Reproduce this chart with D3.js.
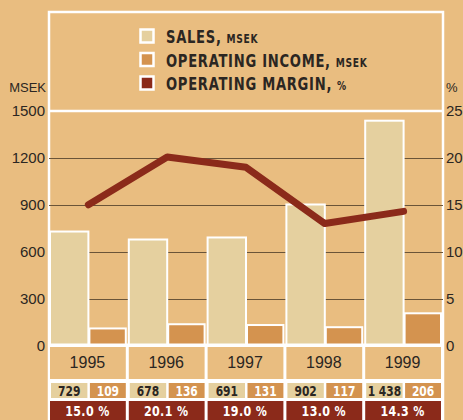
<!DOCTYPE html>
<html>
<head>
<meta charset="utf-8">
<script src="https://cdn.jsdelivr.net/npm/d3@7"></script>
<style>
  body { margin: 0; background: #e9bd80; }
  svg { display: block; }
</style>
</head>
<body>
<svg width="463" height="420"></svg>
<script>
// Data
var years = ["1995", "1996", "1997", "1998", "1999"];
var sales = [729, 678, 691, 902, 1438];
var income = [109, 136, 131, 117, 206];
var margin = [15.0, 20.1, 19.0, 13.0, 14.3];
var salesLabels = ["729", "678", "691", "902", "1 438"];
var incomeLabels = ["109", "136", "131", "117", "206"];
var marginLabels = ["15.0 %", "20.1 %", "19.0 %", "13.0 %", "14.3 %"];
var leftTicks = [0, 300, 600, 900, 1200, 1500];
var rightTicks = [0, 5, 10, 15, 20, 25];
var legendItems = [
  { big: "SALES", small: "MSEK" },
  { big: "OPERATING INCOME", small: "MSEK" },
  { big: "OPERATING MARGIN", small: "%" }
];

var bg = "#e9bd80",
    salesColor = "#e5d09f",
    incomeColor = "#d4934f",
    marginColor = "#8b2a1a",
    textColor = "#2b2622";
var legendColors = [salesColor, incomeColor, marginColor];
var condensed = "'Liberation Sans Narrow', 'DejaVu Sans Condensed', 'Arial Narrow', sans-serif";
var plain = "'Liberation Sans', Arial, sans-serif";

var svg = d3.select("svg");
var plotLeft = 49, plotRight = 443, plotTop = 12;

var x = d3.scaleBand().domain(years).range([plotLeft, plotRight]).paddingInner(0).paddingOuter(0);
var y = d3.scaleLinear().domain([0, 1500]).range([345.5, 111]);
var y2 = d3.scaleLinear().domain([0, 25]).range([345.5, 111]);
var bw = x.bandwidth();

// frame
svg.append("rect")
  .attr("x", plotLeft).attr("y", plotTop)
  .attr("width", plotRight - plotLeft).attr("height", 440)
  .attr("fill", bg).attr("stroke", "#fff").attr("stroke-width", 2.5);

// grid lines
svg.append("g").selectAll("line")
  .data(leftTicks.filter(function(d) { return d > 0 && d < 1500; }))
  .enter().append("line")
    .attr("x1", plotLeft).attr("x2", plotRight)
    .attr("y1", function(d) { return Math.round(y(d)) + 0.5; })
    .attr("y2", function(d) { return Math.round(y(d)) + 0.5; })
    .attr("stroke", "#6a5438").attr("stroke-width", 1);

svg.append("line")
  .attr("x1", plotLeft).attr("x2", plotRight)
  .attr("y1", y(1500)).attr("y2", y(1500))
  .attr("stroke", "#fff").attr("stroke-width", 2.5);

// bars
svg.append("g").selectAll("rect")
  .data(years).enter().append("rect")
    .attr("x", function(d) { return x(d) + 1; })
    .attr("width", bw / 2 - 1)
    .attr("y", function(d, i) { return y(sales[i]); })
    .attr("height", function(d, i) { return y(0) - y(sales[i]); })
    .attr("fill", salesColor).attr("stroke", "#fff").attr("stroke-width", 2);

svg.append("g").selectAll("rect")
  .data(years).enter().append("rect")
    .attr("x", function(d) { return x(d) + bw / 2 + 1; })
    .attr("width", bw / 2 - 3)
    .attr("y", function(d, i) { return y(income[i]); })
    .attr("height", function(d, i) { return y(0) - y(income[i]); })
    .attr("fill", incomeColor).attr("stroke", "#fff").attr("stroke-width", 2);

// margin line
var line = d3.line()
  .x(function(d, i) { return x(years[i]) + bw / 2; })
  .y(function(d) { return y2(d); });

svg.append("path")
  .datum(margin)
  .attr("d", line)
  .attr("fill", "none")
  .attr("stroke", marginColor)
  .attr("stroke-width", 7)
  .attr("stroke-linecap", "round")
  .attr("stroke-linejoin", "round");

// table under the chart
svg.append("rect")
  .attr("x", plotLeft - 1).attr("y", 343.5)
  .attr("width", plotRight - plotLeft + 2).attr("height", 80)
  .attr("fill", "#fff");

var rows = svg.append("g");
function cellText(cx, cy, txt, size, color, bold) {
  // narrow the condensed face a touch so it matches the original type
  var g = rows.append("g").attr("transform", "translate(" + cx + "," + cy + ") scale(0.88,1)");
  g.append("text")
    .attr("text-anchor", "middle").attr("font-family", condensed)
    .attr("font-weight", bold ? "bold" : "normal")
    .attr("font-size", size).attr("fill", color).text(txt);
  return g;
}

years.forEach(function(yr, i) {
  var x0 = x(yr);
  rows.append("rect").attr("x", x0 + 1).attr("y", 347).attr("width", bw - 3).attr("height", 32).attr("fill", bg);
  rows.append("text").attr("x", x0 + bw / 2 - 1).attr("y", 368)
    .attr("text-anchor", "middle").attr("font-family", plain).attr("font-size", 16)
    .attr("fill", textColor).text(yr);

  rows.append("rect").attr("x", x0 + 2).attr("y", 383).attr("width", bw / 2 - 3).attr("height", 15).attr("fill", salesColor);
  cellText(x0 + 2 + (bw / 2 - 3) / 2, 395.5, salesLabels[i], 13.5, textColor, true);

  rows.append("rect").attr("x", x0 + bw / 2 + 1.5).attr("y", 383).attr("width", bw / 2 - 3.5).attr("height", 15).attr("fill", incomeColor);
  cellText(x0 + bw / 2 + 1.5 + (bw / 2 - 3.5) / 2, 395.5, incomeLabels[i], 13.5, "#fff", true);

  rows.append("rect").attr("x", x0 + 1).attr("y", 401).attr("width", bw - 3).attr("height", 20).attr("fill", marginColor);
  cellText(x0 + bw / 2 - 1, 415.5, marginLabels[i], 14, "#fff", true)
    .select("text").attr("letter-spacing", 0.4);
});

// axes labels
svg.append("g").selectAll("text")
  .data(leftTicks).enter().append("text")
    .attr("x", 45).attr("y", function(d) { return y(d); }).attr("dy", "0.36em")
    .attr("text-anchor", "end").attr("font-family", plain).attr("font-size", 15)
    .attr("fill", textColor).text(function(d) { return d; });

svg.append("g").selectAll("text")
  .data(rightTicks).enter().append("text")
    .attr("x", 446).attr("y", function(d) { return y2(d); }).attr("dy", "0.36em")
    .attr("text-anchor", "start").attr("font-family", plain).attr("font-size", 15)
    .attr("fill", textColor).text(function(d) { return d; });

svg.append("text").attr("x", 46).attr("y", 92).attr("text-anchor", "end")
  .attr("font-family", plain).attr("font-size", 13).attr("fill", textColor).text("MSEK");
svg.append("text").attr("x", 446).attr("y", 92)
  .attr("font-family", plain).attr("font-size", 13).attr("fill", textColor).text("%");

// legend
var lg = svg.append("g").attr("transform", "translate(140,29)");
legendItems.forEach(function(d, i) {
  var g = lg.append("g").attr("transform", "translate(0," + (i * 23.5) + ")");
  g.append("rect").attr("x", 0.5).attr("y", 0.5).attr("width", 13).attr("height", 13)
    .attr("fill", legendColors[i]).attr("stroke", "#fff").attr("stroke-width", 2.5);
  var t = g.append("g").attr("transform", "translate(26,14) scale(0.81,1)")
    .append("text")
    .attr("font-family", condensed).attr("font-weight", "bold")
    .attr("fill", textColor).attr("letter-spacing", 0.9);
  t.append("tspan").attr("font-size", 18).text(d.big + ",");
  t.append("tspan").attr("font-size", 12.5).attr("dx", 6).text(d.small);
});
</script>
</body>
</html>
